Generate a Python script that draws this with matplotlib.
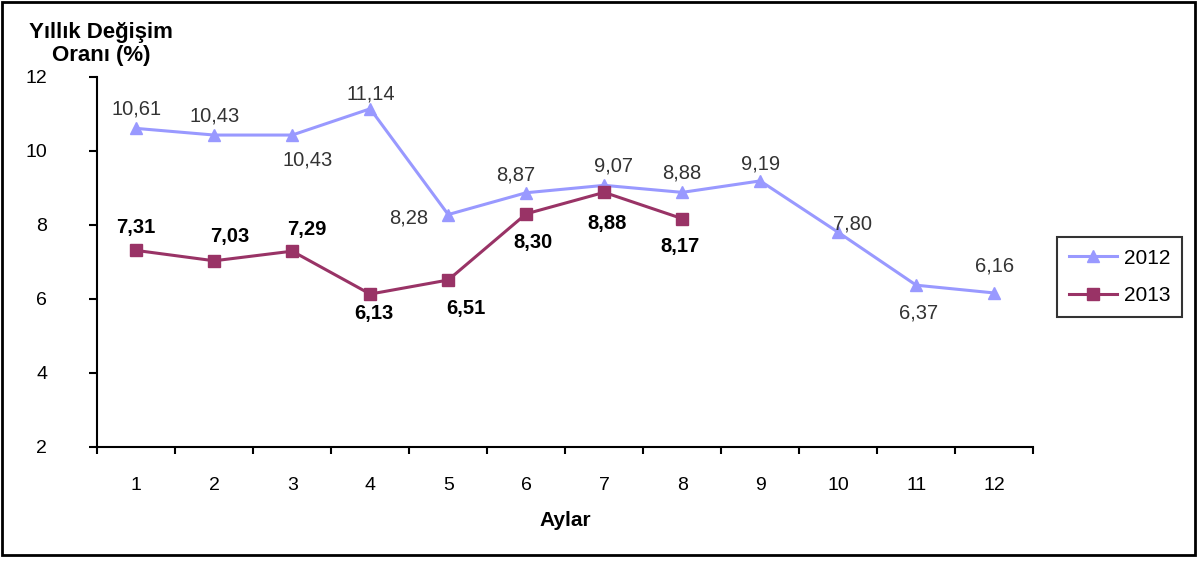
import numpy as np
import matplotlib.pyplot as plt
from matplotlib.patches import Rectangle

plt.rcParams['font.family'] = ['Liberation Sans', 'DejaVu Sans']

aylar = np.arange(1, 13)
y2012 = [10.61, 10.43, 10.43, 11.14, 8.28, 8.87, 9.07, 8.88, 9.19, 7.80, 6.37, 6.16]
y2013 = [7.31, 7.03, 7.29, 6.13, 6.51, 8.30, 8.88, 8.17]

# label offsets (pixels) for each data label
off2012 = [(0, 19), (0, 19), (15, -25), (1, 15), (-40, -3), (-11, 18),
           (9, 19), (0, 19), (0, 17), (14, 8), (2, -28), (0, 27)]
off2013 = [(0, 23), (16, 24), (15, 22), (4, -19), (18, -28), (7, -29),
           (3, -31), (-2, -28)]

c2012 = "#9999FF"
c2013 = "#993366"

fig = plt.figure(figsize=(12, 5.62), dpi=100)
ax = fig.add_axes([0.081, 0.205, 0.780, 0.658])

ax.plot(aylar, y2012, color=c2012, lw=2.2, marker="^", ms=8, label="2012")
ax.plot(aylar[:len(y2013)], y2013, color=c2013, lw=2.2, marker="s", ms=8, label="2013")

def fmt(v):
    return f"{v:.2f}".replace(".", ",")

for x, v, o in zip(aylar, y2012, off2012):
    ax.annotate(fmt(v), (x, v), xytext=o, textcoords="offset pixels",
                ha="center", va="center", fontsize=14.5, color="#333333")
for x, v, o in zip(aylar, y2013, off2013):
    ax.annotate(fmt(v), (x, v), xytext=o, textcoords="offset pixels",
                ha="center", va="center", fontsize=14.5, color="black", fontweight="bold")

ax.set_xlim(0.5, 12.5)
ax.set_ylim(2, 12)
ax.set_yticks(range(2, 13, 2))
ax.set_xticks(np.arange(0.5, 13, 1))
ax.set_xticklabels([])
ax.set_xticks(aylar, minor=True)
ax.set_xticklabels([str(a) for a in aylar], minor=True)
ax.tick_params(axis="x", which="major", direction="out", length=5, width=1.5)
ax.tick_params(axis="x", which="minor", length=0, pad=22, labelsize=14)
ax.tick_params(axis="y", direction="out", length=6, width=1.5, labelsize=14, pad=30)

for s in ["top", "right"]:
    ax.spines[s].set_visible(False)
for s in ["left", "bottom"]:
    ax.spines[s].set_linewidth(1.5)

ax.set_xlabel("Aylar", fontsize=15, fontweight="bold", labelpad=12)
fig.text(0.084, 0.922, "Yıllık Değişim\nOranı (%)", ha="center", va="center",
         fontsize=16, fontweight="bold", linespacing=1.15)

leg = ax.legend(loc="upper left", bbox_to_anchor=(0.881, 0.578),
                bbox_transform=fig.transFigure, frameon=True,
                fancybox=False, edgecolor="black", fontsize=15, handlelength=2.3,
                borderpad=0.55, labelspacing=0.9, handletextpad=0.35,
                borderaxespad=0)
leg.get_frame().set_linewidth(1.5)

fig.patches.append(Rectangle((0.002, 0.012), 0.994, 0.984, transform=fig.transFigure,
                             fill=False, edgecolor="black", lw=2))

fig.savefig("out.png", dpi=100)
